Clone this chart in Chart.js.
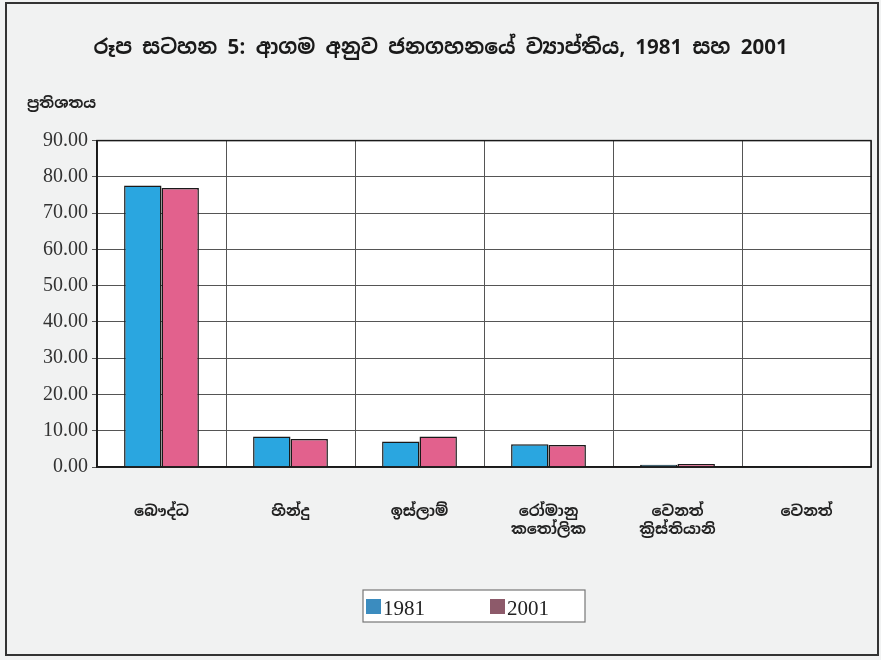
<!DOCTYPE html>
<html>
<head>
<meta charset="utf-8">
<script src="https://cdn.jsdelivr.net/npm/chart.js@4"></script>
<style>
html,body{margin:0;padding:0;background:#f1f2f2;}
#wrap{width:881px;height:660px;}
</style>
</head>
<body>
<div id="wrap"><canvas id="c" width="881" height="660"></canvas></div>
<script>
const chartTitle = 'රූප සටහන 5: ආගම අනුව ජනගහනයේ ව්‍යාප්තිය, 1981 සහ 2001';
const yAxisTitle = 'ප්‍රතිශතය';
const categories = [['බෞද්ධ'], ['හින්දු'], ['ඉස්ලාම්'], ['රෝමානු', 'කතෝලික'], ['වෙනත්', 'ක්‍රිස්තියානි'], ['වෙනත්']];
const seriesNames = ['1981', '2001'];
const values1981 = [77.6, 8.4, 7.0, 6.3, 0.6, 0.05];
const values2001 = [76.9, 7.7, 8.4, 6.1, 0.8, 0.03];
const yMin = 0, yMax = 90, yStep = 10;

const barColors = ['#2aa6e0', '#e2618d'];
const legendSwatchColors = ['#3b8cbf', '#8d5a6a'];

const sinhalaFont = "'Noto Sans Sinhala', 'Iskoola Pota', 'Noto Sans', 'DejaVu Sans', sans-serif";
const serifFont = "'Liberation Serif', 'DejaVu Serif', serif";

const framePlugin = {
  id: 'frame',
  beforeDraw(chart) {
    const ctx = chart.ctx, a = chart.chartArea;
    ctx.save();
    ctx.fillStyle = '#f1f2f2';
    ctx.fillRect(0, 0, chart.width, chart.height);
    ctx.fillStyle = '#ffffff';
    ctx.fillRect(a.left, a.top, a.right - a.left, a.bottom - a.top);
    ctx.restore();
  },
  afterDraw(chart) {
    const ctx = chart.ctx, a = chart.chartArea;
    ctx.save();
    // plot border
    ctx.strokeStyle = '#1a1a1a';
    ctx.lineWidth = 1.5;
    ctx.strokeRect(a.left, a.top, a.right - a.left, a.bottom - a.top);
    // outer frame
    ctx.strokeStyle = '#333';
    ctx.lineWidth = 2;
    ctx.strokeRect(6, 3, chart.width - 9, chart.height - 8);
    // y axis title
    ctx.fillStyle = '#222';
    ctx.font = "bold 15px " + sinhalaFont;
    ctx.textAlign = 'left';
    ctx.textBaseline = 'middle';
    ctx.fillText(yAxisTitle, 27, 104);
    // legend (box, swatches, series names)
    const lx = 363, ly = 590, lw = 222, lh = 32;
    ctx.fillStyle = '#ffffff';
    ctx.fillRect(lx, ly, lw, lh);
    ctx.strokeStyle = '#777';
    ctx.lineWidth = 1.2;
    ctx.strokeRect(lx, ly, lw, lh);
    const itemX = [lx + 3, lx + 127];
    ctx.font = "21px " + serifFont;
    ctx.textBaseline = 'alphabetic';
    seriesNames.forEach((name, i) => {
      ctx.fillStyle = legendSwatchColors[i];
      ctx.fillRect(itemX[i], ly + 9, 15, 15);
      ctx.fillStyle = '#222';
      ctx.fillText(name, itemX[i] + 17, ly + 25);
    });
    ctx.restore();
  }
};

new Chart(document.getElementById('c'), {
  type: 'bar',
  data: {
    labels: categories,
    datasets: seriesNames.map((name, i) => ({
      label: name,
      data: [values1981, values2001][i],
      backgroundColor: barColors[i],
      borderColor: '#1a1a1a',
      borderWidth: 1.5,
      borderSkipped: 'bottom'
    }))
  },
  options: {
    responsive: false,
    animation: false,
    devicePixelRatio: 1,
    layout: { padding: { left: 10, right: 10, top: 0, bottom: 75 } },
    datasets: { bar: { categoryPercentage: 0.58, barPercentage: 1.0 } },
    scales: {
      x: {
        offset: true,
        grid: { display: true, offset: true, color: '#555', lineWidth: 1, drawTicks: false },
        border: { display: true, color: '#1a1a1a', width: 1.5 },
        ticks: { color: '#222', font: { family: sinhalaFont, size: 15, weight: 'bold' }, padding: 36, maxRotation: 0, autoSkip: false },
        afterFit(s) { s.height = 118; }
      },
      y: {
        min: yMin, max: yMax,
        ticks: { stepSize: yStep, color: '#333', font: { family: serifFont, size: 20 }, padding: 4,
          callback: v => Number(v).toFixed(2) },
        grid: { color: '#555', lineWidth: 1, tickLength: 5, tickColor: '#555' },
        border: { display: true, color: '#1a1a1a', width: 1.5 },
        afterFit(s) { s.width = 87; }
      }
    },
    plugins: {
      title: { display: true, text: chartTitle, color: '#1a1a1a', font: { family: sinhalaFont, size: 20.5, weight: 'bold' }, padding: { top: 36, bottom: 80 } },
      legend: { display: false },
      tooltip: { enabled: false }
    }
  },
  plugins: [framePlugin]
});
</script>
</body>
</html>
